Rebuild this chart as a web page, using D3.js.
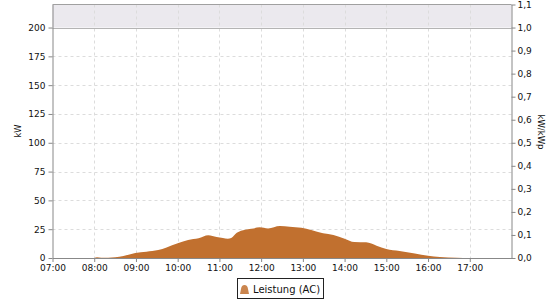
<!DOCTYPE html>
<html><head><meta charset="utf-8">
<script src="https://cdn.jsdelivr.net/npm/d3@7"></script>
<style>
body{margin:0;background:#fff;}
text{font-family:"DejaVu Sans",sans-serif;}
</style></head>
<body><svg id="c" width="560" height="300"></svg>
<script>
const times = ["08:00","08:04","08:10","08:20","08:30","08:42","08:59","09:15","09:32","09:44","09:58","10:15","10:30","10:44","10:56","11:05","11:12","11:17","11:25","11:37","11:49","11:58","12:10","12:27","12:41","12:58","13:12","13:29","13:44","14:00","14:14","14:31","14:46","15:00","15:19","15:41","16:00","16:17","16:41","17:00"];
const power = [0,0.6,0.3,0.2,0.6,1.7,4.4,5.5,6.9,9.2,12.4,15.6,17.1,19.7,18.2,17.4,16.6,17.3,21.9,24.6,25.7,26.6,25.7,27.7,27.2,26.3,24.3,21.4,19.9,16.8,13.9,13.6,10.7,7.8,6.1,4.0,2.0,0.9,0.3,0];
const leftTicks = [0,25,50,75,100,125,150,175,200];
const rightTicks = ["0,0","0,1","0,2","0,3","0,4","0,5","0,6","0,7","0,8","0,9","1,0","1,1"];
const hourTicks = ["07:00","08:00","09:00","10:00","11:00","12:00","13:00","14:00","15:00","16:00","17:00"];
const legendLabel = "Leistung (AC)";

const parse = d3.timeParse("%H:%M");
const svg = d3.select("#c");
const L = 52.5, R = 511.5, T = 4.5, B = 258;
const x = d3.scaleTime().domain([parse("07:00"), parse("18:00")]).range([L, R]);
const y = d3.scaleLinear().domain([0, 220]).range([B, T]);
const y2 = d3.scaleLinear().domain([0, 1.1]).range([B, T]);

// band above 200
svg.append("rect").attr("x", L).attr("y", y(220)).attr("width", R - L).attr("height", y(200) - y(220)).attr("fill", "#ebe9ee");

// grid
const g = svg.append("g");
hourTicks.slice(1).forEach(h => {
  g.append("line").attr("x1", Math.round(x(parse(h))) + 0.5).attr("x2", Math.round(x(parse(h))) + 0.5)
    .attr("y1", T).attr("y2", B).attr("stroke", "#dcdcdc").attr("stroke-dasharray", "3,3");
});
leftTicks.slice(1, -1).forEach(v => {
  g.append("line").attr("x1", L).attr("x2", R).attr("y1", Math.round(y(v)) + 0.5).attr("y2", Math.round(y(v)) + 0.5)
    .attr("stroke", "#dcdcdc").attr("stroke-dasharray", "3,3");
});
svg.append("line").attr("x1", L).attr("x2", R).attr("y1", Math.round(y(200)) + 0.5).attr("y2", Math.round(y(200)) + 0.5).attr("stroke", "#b4b4b4");

// area
const data = times.map((t, i) => ({t: parse(t), v: power[i]}));
const area = d3.area().x(d => x(d.t)).y0(y(0)).y1(d => y(d.v)).curve(d3.curveMonotoneX);
svg.append("path").datum(data).attr("d", area).attr("fill", "#c1702f");

// frame top
svg.append("line").attr("x1", L).attr("x2", R).attr("y1", T).attr("y2", T).attr("stroke", "#a0a0a0");

// axes
const axL = d3.axisLeft(y).tickValues(leftTicks).tickSize(4).tickPadding(3);
const axR = d3.axisRight(y2).tickValues(d3.range(12).map(i => i / 10)).tickFormat((d, i) => rightTicks[i]).tickSize(4).tickPadding(2);
const axB = d3.axisBottom(x).tickValues(hourTicks.map(parse)).tickFormat(d3.timeFormat("%H:%M")).tickSize(4).tickPadding(3);
function style(sel) {
  sel.select(".domain").attr("stroke", "#888");
  sel.selectAll(".tick line").attr("stroke", "#888");
  sel.selectAll(".tick text").attr("fill", "#111").attr("font-size", "9px").attr("font-family", "DejaVu Sans");
}
svg.append("g").attr("transform", `translate(${L},0)`).call(axL.tickSizeOuter(0)).call(style);
svg.append("g").attr("transform", `translate(${R},0)`).call(axR.tickSizeOuter(0)).call(style);
svg.append("g").attr("transform", `translate(0,${B})`).call(axB.tickSizeOuter(0)).call(style);

// axis titles
svg.append("text").attr("transform", `translate(20.5,131) rotate(-90)`).attr("text-anchor", "middle").attr("font-size", "9.5px").attr("fill", "#111")
  .attr("textLength", 13).attr("lengthAdjust", "spacingAndGlyphs").text("kW");
svg.append("text").attr("transform", `translate(537.5,132) rotate(90)`).attr("text-anchor", "middle").attr("font-size", "9.5px").attr("fill", "#111")
  .attr("textLength", 35).attr("lengthAdjust", "spacingAndGlyphs").text("kW/kWp");

// legend
const lg = svg.append("g");
lg.append("rect").attr("x", 237.5).attr("y", 278.5).attr("width", 86).attr("height", 20).attr("fill", "#fff").attr("stroke", "#222");
lg.append("path").attr("d", "M240,294 L241,289 Q241.5,285 244.5,285 Q247.5,285 248,289 L249,294 Z").attr("fill", "#c1702f").attr("opacity", 0.85);
lg.append("text").attr("x", 253).attr("y", 292.5).attr("font-size", "10px").attr("fill", "#111").text(legendLabel);
</script></body></html>
